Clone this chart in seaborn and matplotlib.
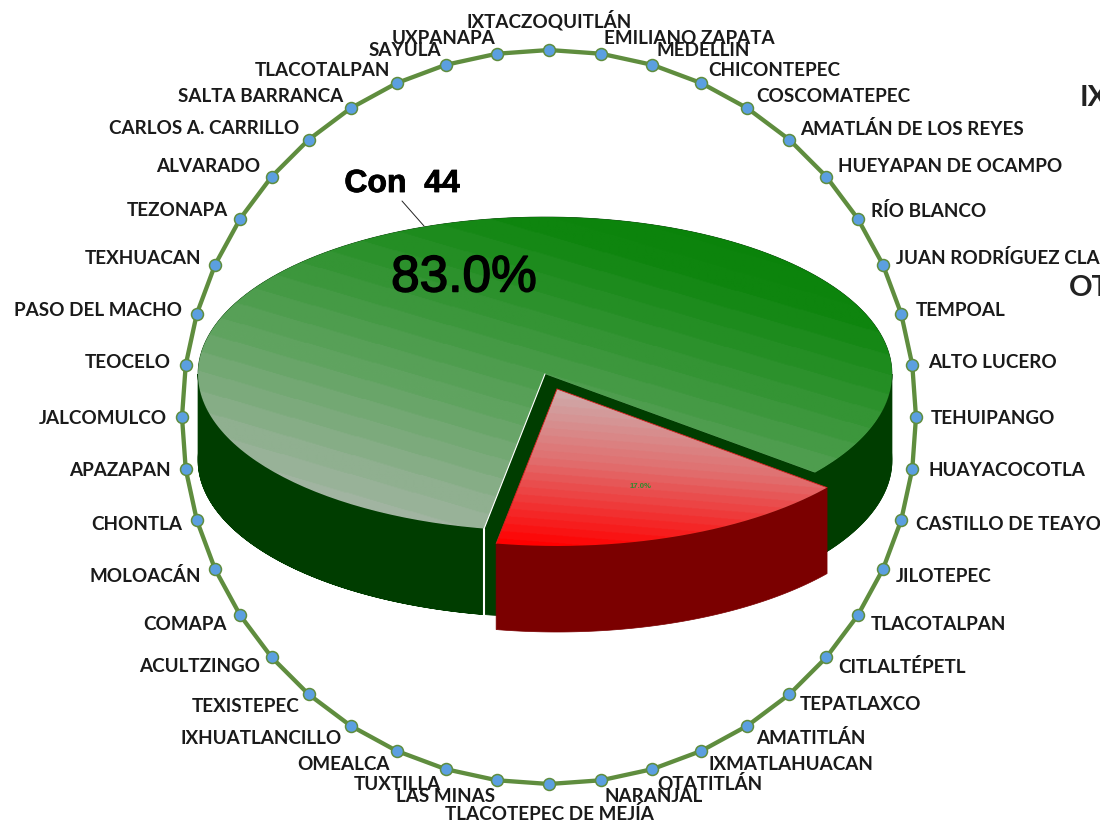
import numpy as np
import pandas as pd
import matplotlib
matplotlib.use("Agg")
import matplotlib.pyplot as plt
import matplotlib.patheffects as pe
from matplotlib.colors import LinearSegmentedColormap
from matplotlib.patches import PathPatch, Polygon
from matplotlib.path import Path
import seaborn as sns

# datos
municipios = ["IXTACZOQUITLÁN", "EMILIANO ZAPATA", "MEDELLIN", "CHICONTEPEC", "COSCOMATEPEC",
              "AMATLÁN DE LOS REYES", "HUEYAPAN DE OCAMPO", "RÍO BLANCO", "JUAN RODRÍGUEZ CLARA",
              "TEMPOAL", "ALTO LUCERO", "TEHUIPANGO", "HUAYACOCOTLA", "CASTILLO DE TEAYO",
              "JILOTEPEC", "TLACOTALPAN", "CITLALTÉPETL", "TEPATLAXCO", "AMATITLÁN",
              "IXMATLAHUACAN", "OTATITLÁN", "NARANJAL", "TLACOTEPEC DE MEJÍA", "LAS MINAS",
              "TUXTILLA", "OMEALCA", "IXHUATLANCILLO", "TEXISTEPEC", "ACULTZINGO", "COMAPA",
              "MOLOACÁN", "CHONTLA", "APAZAPAN", "JALCOMULCO", "TEOCELO", "PASO DEL MACHO",
              "TEXHUACAN", "TEZONAPA", "ALVARADO", "CARLOS A. CARRILLO", "SALTA BARRANCA",
              "TLACOTALPAN", "SAYULA", "UXPANAPA"]
valores_anillo = [1] * 44
porcentajes = [83.0, 17.0]

# posicion de las etiquetas en pixeles (borde x, centro y)
etiqueta_x = [549, 604, 657, 708, 756, 800, 838, 871, 896, 916, 928, 931, 928, 916, 896, 871, 838, 800,
              756, 708, 657, 604, 549, 495, 441, 390, 342, 300, 260, 227, 201, 182, 171, 167, 171, 182,
              201, 228, 260, 299, 343, 390, 441, 495]
etiqueta_y = [20, 39, 51, 70, 96, 129, 167, 211, 258, 311, 363, 418, 471, 524, 576, 624, 667, 705,
              738, 764, 784, 796, 814, 796, 784, 765, 739, 706, 667, 624, 576, 524, 471, 418, 363, 311,
              258, 211, 167, 129, 96, 70, 51, 39]

sns.set_theme(style="white")
plt.rcParams["font.family"] = ["Lato", "DejaVu Sans"]

fig = plt.figure(figsize=(11, 8.26), dpi=100, facecolor="white")
ax = fig.add_axes([0, 0, 1, 1])
ax.set_xlim(0, 1100)
ax.set_ylim(826, 0)
ax.axis("off")

# anillo de municipios
cx, cy, radio = 549, 417, 367
theta = 2 * np.pi * np.arange(len(municipios)) / len(municipios)
anillo = pd.DataFrame({
    "x": cx + radio * np.array(valores_anillo) * np.sin(theta),
    "y": cy - radio * np.array(valores_anillo) * np.cos(theta),
})
cerrado = pd.concat([anillo, anillo.iloc[[0]]], ignore_index=True)
sns.lineplot(data=cerrado, x="x", y="y", sort=False, estimator=None, color="#5f8d3e",
             linewidth=3.1, ax=ax, zorder=2)
sns.scatterplot(data=anillo, x="x", y="y", s=74, color="#5b9fe0", edgecolor="#5f8d3e",
                linewidth=1.1, alpha=1, ax=ax, zorder=3)
ax.set_xlabel("")
ax.set_ylabel("")

for i, nombre in enumerate(municipios):
    if i == 0 or i == 22:
        ha = "center"
    elif i < 22:
        ha = "left"
    else:
        ha = "right"
    ax.text(etiqueta_x[i], etiqueta_y[i], nombre, ha=ha, va="center", fontsize=13.6,
            fontweight="bold", color="#1a1a1a", zorder=5)

# pastel 3D
rx, ry, alto = 347, 157, 86
inicio = 321.1
barrido = [p / sum(porcentajes) * 360 for p in porcentajes]


def arco(c, a, b):
    t = np.radians(np.linspace(a, b, 240))
    return np.column_stack([c[0] + rx * np.cos(t), c[1] - ry * np.sin(t)])


def lado(c, a, b, color, z):
    top = arco(c, a, b)
    ax.add_patch(Polygon(np.vstack([top, top[::-1] + [0, alto]]), closed=True, fc=color, ec=color,
                         lw=0.5, zorder=z))


def degradado(puntos, colores, direc, z, n=26):
    x0, y0 = puntos.min(axis=0)
    x1, y1 = puntos.max(axis=0)
    xx, yy = np.meshgrid(np.linspace(x0, x1, 400), np.linspace(y0, y1, 300))
    t = (xx - x0) * direc[0] + (yy - y0) * direc[1]
    t = (t - t.min()) / (t.max() - t.min())
    cmap = LinearSegmentedColormap.from_list("g", colores, N=n)
    im = ax.imshow(t, cmap=cmap, extent=(x0, x1, y1, y0), aspect="auto", zorder=z, interpolation="bilinear")
    im.set_clip_path(PathPatch(Path(np.vstack([puntos, puntos[:1]])), transform=ax.transData))


verde_c = (545, 374)
rojo_c = (557, 389)
verde_a, verde_b = inicio, inicio + barrido[0]
rojo_a, rojo_b = verde_b, verde_b + barrido[1]

# caras interiores del corte
for ang in (verde_a, verde_b):
    p = arco(verde_c, ang, ang)[0]
    cara = [verde_c, p, p + [0, alto], (verde_c[0], verde_c[1] + alto)]
    ax.add_patch(Polygon(cara, closed=True, fc="#003d00", ec="#003d00", lw=0.5, zorder=6))
lado(verde_c, verde_a, 360, "#003d00", 7)
lado(verde_c, 180, verde_b, "#003d00", 7)

top_verde = np.vstack([[verde_c], arco(verde_c, verde_a, verde_b)])
degradado(top_verde, ["#058005", "#0e850e", "#349434", "#60a360", "#90b090", "#bcbcbc"], (-0.28, 0.96), 8)

fin = arco(verde_c, verde_b, verde_b)[0]
ax.plot([fin[0], verde_c[0]], [fin[1], verde_c[1]], color="white", lw=0.8, zorder=9)
ax.plot([fin[0], fin[0]], [fin[1], fin[1] + alto], color="white", lw=1.5, zorder=9)

lado(rojo_c, rojo_a, rojo_b, "#7b0000", 10)
top_rojo = np.vstack([[rojo_c], arco(rojo_c, rojo_a, rojo_b)])
degradado(top_rojo, ["#c9bcbc", "#e07070", "#ff0000"], (-0.08, 1), 11, n=24)
ax.plot([rojo_c[0], top_rojo[1, 0]], [rojo_c[1], top_rojo[1, 1]], color="#d82020", lw=0.6, zorder=12)
ax.plot([rojo_c[0], top_rojo[-1, 0]], [rojo_c[1], top_rojo[-1, 1]], color="#d82020", lw=0.6, zorder=12)

# textos del pastel
ax.plot([402, 424], [201, 226], color="#222222", lw=0.7, zorder=9)
ax.text(402, 184, "Con  44", ha="center", va="center", fontsize=23, fontweight="bold",
        family="Liberation Sans", color="black", zorder=13,
        path_effects=[pe.withStroke(linewidth=0.6, foreground="black")])
ax.text(464, 278, f"{porcentajes[0]:.1f}%", ha="center", va="center", fontsize=37, family="Liberation Sans",
        color="black", zorder=13, path_effects=[pe.withStroke(linewidth=1.1, foreground="black")])
ax.text(641, 486, f"{porcentajes[1]:.1f}%", ha="center", va="center", fontsize=5.6, fontweight="bold",
        family="Liberation Sans", color="#2e8b2e", zorder=13)

# textos cortados a la derecha
ax.text(1080, 98, "IX", ha="left", va="center", fontsize=21, fontweight="bold", color="#222222", zorder=5)
ax.text(1069, 288, "OT", ha="left", va="center", fontsize=21, fontweight="bold", color="#222222", zorder=5)

ax.set_xlim(0, 1100)
ax.set_ylim(826, 0)
fig.savefig("out.png", dpi=100)
